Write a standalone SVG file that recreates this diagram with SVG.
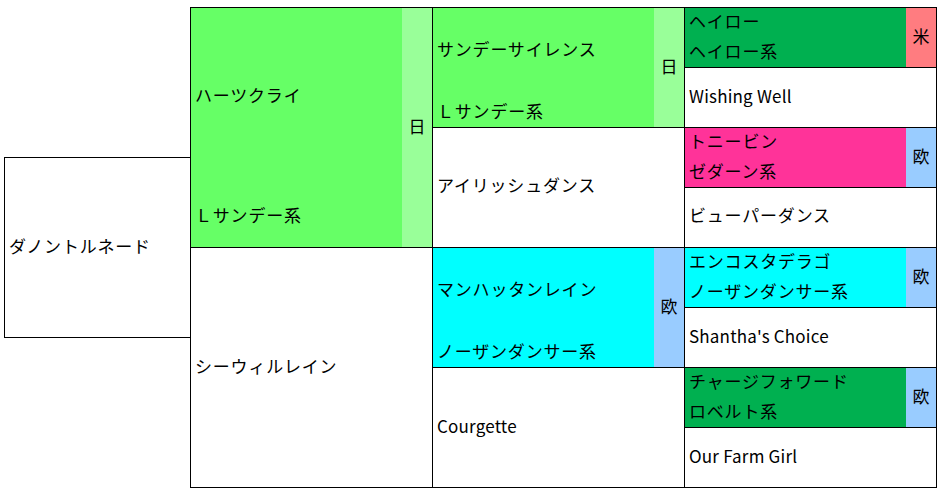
<svg xmlns="http://www.w3.org/2000/svg" width="942" height="494" viewBox="0 0 942 494">
<style>
text{font-family:"Noto Sans CJK JP","Liberation Sans",sans-serif;font-size:17px;fill:#000;dominant-baseline:central;letter-spacing:0.8px}
.l{font-size:17px;letter-spacing:0.2px}
.f{text-anchor:middle;letter-spacing:0}
.cell{stroke:#000;stroke-width:1}
.w{fill:#fff}.g{fill:#66FF66}.lg{fill:#99FF99}.dg{fill:#00B050}.sa{fill:#FF7C80}.pk{fill:#FF3399}.bl{fill:#99CCFF}.cy{fill:#00FFFF}
</style>
<rect width="942" height="494" fill="#fff"/>
<g id="root"><rect class="cell w" x="4.5" y="157.5" width="186" height="180"/><text x="9" y="245">ダノントルネード</text></g>
<g id="sire"><rect class="g" x="190.5" y="7.5" width="242" height="240"/><rect class="lg" x="402" y="8" width="30" height="239"/><rect class="cell" fill="none" x="190.5" y="7.5" width="242" height="240"/><text x="195" y="94">ハーツクライ</text><text x="195" y="214">Ｌサンデー系</text><text class="f" x="417" y="125">日</text></g>
<g id="dam"><rect class="cell w" x="190.5" y="247.5" width="242" height="240"/><text x="195" y="365">シーウィルレイン</text></g>
<g id="ss"><rect class="g" x="432.5" y="7.5" width="252" height="120"/><rect class="lg" x="654" y="8" width="30" height="119"/><rect class="cell" fill="none" x="432.5" y="7.5" width="252" height="120"/><text x="437" y="48">サンデーサイレンス</text><text x="437" y="110">Ｌサンデー系</text><text class="f" x="669" y="65">日</text></g>
<g id="sd"><rect class="cell w" x="432.5" y="127.5" width="252" height="120"/><text x="437" y="184">アイリッシュダンス</text></g>
<g id="ds"><rect class="cy" x="432.5" y="247.5" width="252" height="120"/><rect class="bl" x="654" y="248" width="30" height="119"/><rect class="cell" fill="none" x="432.5" y="247.5" width="252" height="120"/><text x="437" y="288">マンハッタンレイン</text><text x="437" y="350">ノーザンダンサー系</text><text class="f" x="669" y="305">欧</text></g>
<g id="dd"><rect class="cell w" x="432.5" y="367.5" width="252" height="120"/><text class="l" x="437" y="425">Courgette</text></g>
<g id="sss"><rect class="dg" x="684.5" y="7.5" width="252" height="60"/><rect class="sa" x="906" y="8" width="30" height="59"/><rect class="cell" fill="none" x="684.5" y="7.5" width="252" height="60"/><text x="689" y="20">ヘイロー</text><text x="689" y="50">ヘイロー系</text><text class="f" x="921" y="35">米</text></g>
<g id="ssd"><rect class="cell w" x="684.5" y="67.5" width="252" height="60"/><text class="l" x="689" y="95">Wishing Well</text></g>
<g id="sds"><rect class="pk" x="684.5" y="127.5" width="252" height="60"/><rect class="bl" x="906" y="128" width="30" height="59"/><rect class="cell" fill="none" x="684.5" y="127.5" width="252" height="60"/><text x="689" y="140">トニービン</text><text x="689" y="170">ゼダーン系</text><text class="f" x="921" y="155">欧</text></g>
<g id="sdd"><rect class="cell w" x="684.5" y="187.5" width="252" height="60"/><text x="689" y="214">ビューパーダンス</text></g>
<g id="dss"><rect class="cy" x="684.5" y="247.5" width="252" height="60"/><rect class="bl" x="906" y="248" width="30" height="59"/><rect class="cell" fill="none" x="684.5" y="247.5" width="252" height="60"/><text x="689" y="260">エンコスタデラゴ</text><text x="689" y="290">ノーザンダンサー系</text><text class="f" x="921" y="275">欧</text></g>
<g id="dsd"><rect class="cell w" x="684.5" y="307.5" width="252" height="60"/><text class="l" x="689" y="335">Shantha's Choice</text></g>
<g id="dds"><rect class="dg" x="684.5" y="367.5" width="252" height="60"/><rect class="bl" x="906" y="368" width="30" height="59"/><rect class="cell" fill="none" x="684.5" y="367.5" width="252" height="60"/><text x="689" y="380">チャージフォワード</text><text x="689" y="410">ロベルト系</text><text class="f" x="921" y="395">欧</text></g>
<g id="ddd"><rect class="cell w" x="684.5" y="427.5" width="252" height="60"/><text class="l" x="689" y="455">Our Farm Girl</text></g>
</svg>
